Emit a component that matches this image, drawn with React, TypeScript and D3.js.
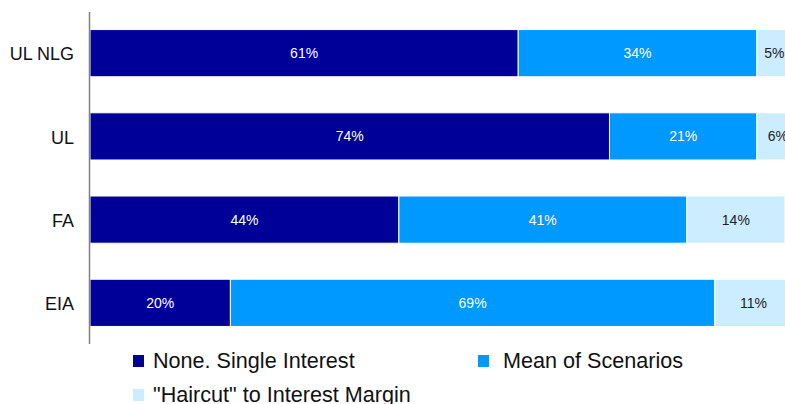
import React from "react";
import * as d3 from "d3";

const categories = ["UL NLG", "UL", "FA", "EIA"];
const seriesNames = ["None. Single Interest", "Mean of Scenarios", "\"Haircut\" to Interest Margin"];
const noneSingle = [61, 74, 44, 20];
const meanScenarios = [34, 21, 41, 69];
const haircut = [5, 6, 14, 11];
const colors = ["#000099", "#0099FF", "#CCECFF"];
const labelColors = ["#ffffff", "#ffffff", "#222222"];

const W = 785;
const H = 404;

export default function App() {
  const series = [noneSingle, meanScenarios, haircut];
  const y = d3
    .scaleBand<string>()
    .domain(categories)
    .range([12, 344])
    .paddingInner(0.433)
    .paddingOuter(0.211);
  const x = d3.scaleLinear().domain([0, 100]).range([90, 792]);

  const segs: { cat: string; s: number; x0: number; x1: number; v: number }[] = [];
  categories.forEach((c, i) => {
    let acc = 0;
    series.forEach((arr, s) => {
      const v = arr[i];
      segs.push({ cat: c, s, x0: acc, x1: acc + v, v });
      acc += v;
    });
  });

  const font = "'Liberation Sans', Arial, sans-serif";
  const legend = [
    { s: 0, x: 133, y: 355, tx: 153, ty: 368 },
    { s: 1, x: 478, y: 355, tx: 503, ty: 368 },
    { s: 2, x: 133, y: 389, tx: 153, ty: 402 },
  ];

  return (
    <svg
      width={W}
      height={H}
      style={{ position: "fixed", left: 0, top: 0, background: "#fff" }}
      fontFamily={font}
    >
      {segs.map((d, i) => (
        <rect
          key={i}
          x={x(d.x0)}
          y={y(d.cat)}
          width={x(d.x1) - x(d.x0)}
          height={y.bandwidth()}
          fill={colors[d.s]}
          stroke="#ffffff"
          strokeWidth={1}
        />
      ))}
      {segs.map((d, i) => (
        <text
          key={"t" + i}
          x={(x(d.x0) + x(d.x1)) / 2}
          y={(y(d.cat) as number) + y.bandwidth() / 2}
          dy="0.35em"
          textAnchor="middle"
          fontSize={14}
          fill={labelColors[d.s]}
        >
          {d.v + "%"}
        </text>
      ))}
      <line x1={89.5} x2={89.5} y1={12} y2={344} stroke="#808080" strokeWidth={1.5} />
      {categories.map((c) => (
        <text
          key={c}
          x={74}
          y={(y(c) as number) + y.bandwidth() / 2 + 1}
          dy="0.35em"
          textAnchor="end"
          fontSize={18}
          fill="#111"
        >
          {c}
        </text>
      ))}
      {legend.map((l) => (
        <g key={l.s}>
          <rect x={l.x} y={l.y} width={11} height={12} fill={colors[l.s]} />
          <text x={l.tx} y={l.ty} fontSize={21.6} fill="#111">
            {seriesNames[l.s]}
          </text>
        </g>
      ))}
    </svg>
  );
}
